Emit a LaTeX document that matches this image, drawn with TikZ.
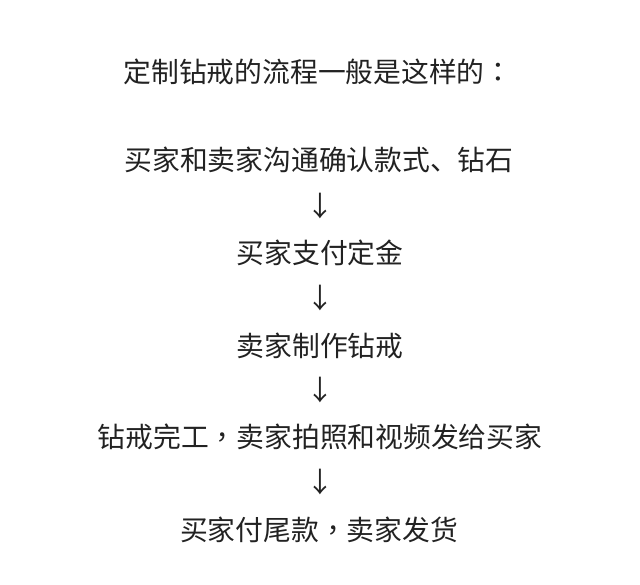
\documentclass[tikz,border=0pt]{standalone}
\usepackage{fontspec}
\newfontfamily\cjk{Noto Sans CJK SC}
\newfontfamily\cjktc{Noto Sans CJK TC}
\newcommand{\cpunct}[1]{{\cjktc #1}}
\definecolor{ink}{HTML}{222222}
\begin{document}
\begin{tikzpicture}[x=1bp,y=-1bp,
  line/.style={font=\cjk\fontsize{27.9}{30}\selectfont, text=ink, inner sep=0pt, anchor=center},
  arr/.style={font=\cjk\fontsize{27.9}{30}\selectfont, text=ink, inner sep=0pt, anchor=center}]
\useasboundingbox[fill=white] (0,0) rectangle (640,585);
\node[line] (t) at (318,72) {定制钻戒的流程一般是这样的\cpunct{：}};
\node[line] (s1) at (319,160) {买家和卖家沟通确认款式、钻石};
\node[arr] (a1) at (320,206) {↓};
\node[line] (s2) at (320,253) {买家支付定金};
\node[arr] (a2) at (320,298) {↓};
\node[line] (s3) at (320,346) {卖家制作钻戒};
\node[arr] (a3) at (320,390) {↓};
\node[line] (s4) at (320,437) {钻戒完工\cpunct{，}卖家拍照和视频发给买家};
\node[arr] (a4) at (320,482) {↓};
\node[line] (s5) at (319,530) {买家付尾款\cpunct{，}卖家发货};
\end{tikzpicture}
\end{document}
